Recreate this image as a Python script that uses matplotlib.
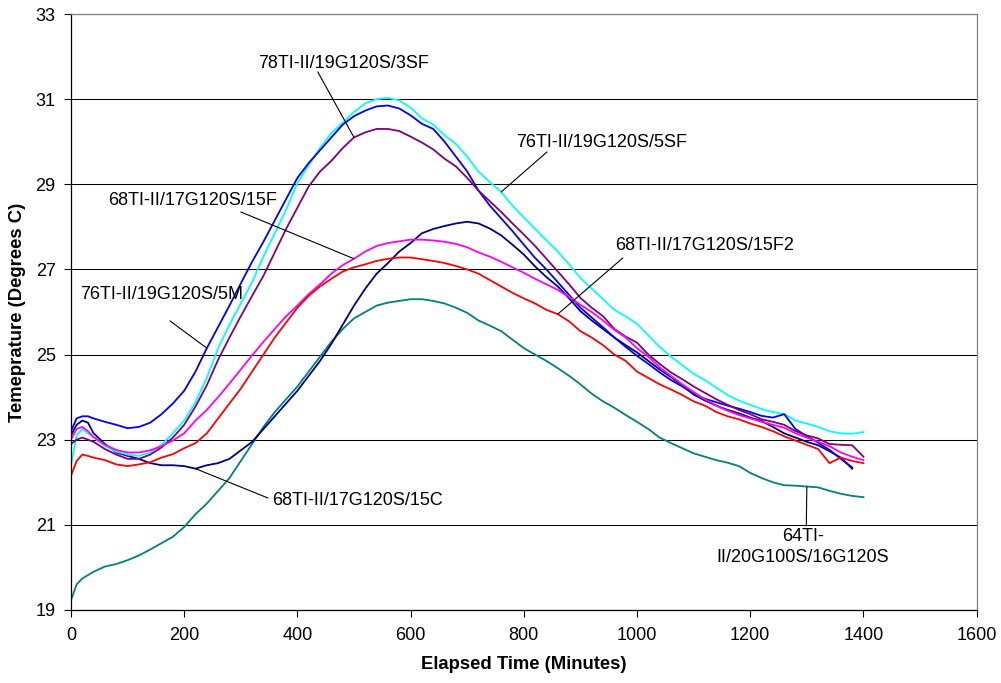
import numpy as np
import matplotlib
matplotlib.use("Agg")
import matplotlib.pyplot as plt

plt.rcParams['font.family'] = ['Liberation Sans', 'DejaVu Sans']

# Elapsed time (minutes) at which each temperature was read
minutes = [0, 10, 20, 30] + list(range(40, 1401, 20))

nan = float('nan')

temp_5m = [23.2, 23.5, 23.55, 23.55, 23.5, 23.42, 23.35, 23.27, 23.3, 23.4, 23.6, 23.85,
           24.15, 24.6, 25.15, 25.65, 26.15, 26.67, 27.18, 27.65, 28.15, 28.65, 29.15,
           29.5, 29.8, 30.1, 30.4, 30.6, 30.73, 30.83, 30.85, 30.78, 30.62, 30.42, 30.3,
           30.0, 29.65, 29.3, 28.85, 28.5, 28.2, 27.9, 27.58, 27.27, 27.0, 26.7, 26.4,
           26.1, 25.87, 25.64, 25.4, 25.18, 24.97, 24.78, 24.58, 24.4, 24.25, 24.08,
           23.96, 23.88, 23.8, 23.73, 23.65, 23.56, 23.52, 23.6, 23.25, 23.08, 22.93,
           22.76, 22.55, 22.35, nan]

temp_5sf = [22.4, 23.1, 23.25, 23.15, 23.05, 22.85, 22.72, 22.65, 22.62, 22.7, 22.88, 23.15,
            23.45, 23.88, 24.45, 25.15, 25.7, 26.2, 26.7, 27.3, 27.85, 28.4, 29.03,
            29.45, 29.85, 30.2, 30.45, 30.7, 30.9, 31.0, 31.03, 30.97, 30.8, 30.55, 30.4,
            30.15, 29.95, 29.65, 29.3, 29.05, 28.82, 28.5, 28.22, 27.95, 27.68, 27.42,
            27.12, 26.8, 26.55, 26.3, 26.05, 25.9, 25.72, 25.45, 25.18, 24.95, 24.75,
            24.55, 24.4, 24.22, 24.05, 23.92, 23.82, 23.72, 23.65, 23.6, 23.45, 23.38,
            23.3, 23.2, 23.15, 23.14, 23.18]

temp_3sf = [22.9, 23.0, 23.05, 23.0, 22.95, 22.78, 22.65, 22.55, 22.55, 22.65, 22.82, 23.05,
            23.35, 23.78, 24.28, 24.88, 25.4, 25.9, 26.38, 26.85, 27.4, 27.95, 28.45,
            28.95, 29.3, 29.55, 29.85, 30.1, 30.22, 30.3, 30.3, 30.25, 30.12, 29.98, 29.82,
            29.6, 29.42, 29.15, 28.85, 28.6, 28.35, 28.08, 27.82, 27.55, 27.25, 26.95,
            26.65, 26.33, 26.1, 25.9, 25.6, 25.42, 25.28, 25.0, 24.78, 24.58, 24.42,
            24.25, 24.1, 23.95, 23.82, 23.7, 23.6, 23.48, 23.42, 23.35, 23.2, 23.1,
            23.03, 22.9, 22.88, 22.87, 22.6]

temp_15f = [23.0, 23.25, 23.3, 23.2, 23.06, 22.88, 22.76, 22.7, 22.7, 22.75, 22.85, 22.98,
            23.15, 23.45, 23.7, 24.0, 24.32, 24.65, 24.98, 25.3, 25.6, 25.9, 26.15,
            26.42, 26.65, 26.9, 27.1, 27.25, 27.42, 27.55, 27.62, 27.66, 27.7, 27.7, 27.68,
            27.65, 27.6, 27.52, 27.4, 27.3, 27.18, 27.05, 26.92, 26.78, 26.65, 26.52,
            26.35, 26.17, 26.0, 25.8, 25.58, 25.4, 25.15, 24.95, 24.7, 24.5, 24.3,
            24.12, 23.95, 23.8, 23.68, 23.58, 23.5, 23.42, 23.35, 23.28, 23.15, 23.05,
            22.95, 22.85, 22.7, 22.6, 22.52]

temp_15f2 = [22.15, 22.5, 22.65, 22.62, 22.58, 22.52, 22.42, 22.38, 22.42, 22.47, 22.58, 22.66,
             22.8, 22.92, 23.15, 23.5, 23.85, 24.2, 24.6, 25.0, 25.4, 25.75, 26.1,
             26.38, 26.6, 26.78, 26.95, 27.05, 27.12, 27.2, 27.25, 27.28, 27.28, 27.24, 27.2,
             27.15, 27.08, 27.0, 26.9, 26.75, 26.6, 26.45, 26.32, 26.2, 26.05, 25.95,
             25.78, 25.55, 25.4, 25.22, 25.0, 24.85, 24.6, 24.45, 24.3, 24.18, 24.05,
             23.9, 23.8, 23.65, 23.55, 23.48, 23.38, 23.3, 23.2, 23.08, 22.98, 22.88,
             22.78, 22.45, 22.58, 22.5, 22.45]

temp_15c = [23.1, 23.35, 23.45, 23.4, 23.15, 22.9, 22.7, 22.62, 22.55, 22.45, 22.4, 22.4,
            22.38, 22.32, 22.4, 22.45, 22.55, 22.75, 22.95, 23.25, 23.55, 23.85, 24.15,
            24.5, 24.85, 25.25, 25.7, 26.15, 26.55, 26.9, 27.15, 27.42, 27.62, 27.85, 27.95,
            28.02, 28.08, 28.12, 28.08, 27.96, 27.8, 27.58, 27.35, 27.07, 26.82, 26.6,
            26.32, 26.02, 25.8, 25.6, 25.4, 25.22, 25.05, 24.85, 24.65, 24.47, 24.28,
            24.06, 23.92, 23.8, 23.7, 23.62, 23.52, 23.44, 23.3, 23.15, 23.05, 22.95,
            22.87, 22.73, 22.58, 22.32, nan]

temp_16g = [19.23, 19.6, 19.74, 19.82, 19.9, 20.02, 20.08, 20.17, 20.28, 20.42, 20.57, 20.72,
            20.95, 21.25, 21.5, 21.8, 22.1, 22.5, 22.9, 23.3, 23.65, 23.95, 24.25,
            24.6, 24.95, 25.3, 25.6, 25.85, 26.0, 26.15, 26.22, 26.26, 26.3, 26.3, 26.26,
            26.2, 26.1, 25.98, 25.8, 25.68, 25.55, 25.35, 25.15, 25.0, 24.85, 24.68,
            24.5, 24.3, 24.08, 23.9, 23.75, 23.58, 23.42, 23.25, 23.05, 22.92, 22.8,
            22.68, 22.6, 22.52, 22.46, 22.38, 22.22, 22.1, 22.0, 21.93, 21.92, 21.9,
            21.88, 21.8, 21.73, 21.68, 21.65]

series_names = ["64TI-\nII/20G100S/16G120S", "68TI-II/17G120S/15C", "76TI-II/19G120S/5SF",
                "76TI-II/19G120S/5M", "78TI-II/19G120S/3SF", "68TI-II/17G120S/15F",
                "68TI-II/17G120S/15F2"]
series_temps = [temp_16g, temp_15c, temp_5sf, temp_5m, temp_3sf, temp_15f, temp_15f2]
series_colors = ["#008080", "#000080", "#00FFFF", "#0000FF", "#800080", "#FF00FF", "#FF0000"]

x_ticks = list(range(0, 1601, 200))
y_ticks = list(range(19, 34, 2))

fig = plt.figure(figsize=(10.01, 6.83), dpi=100)
ax = fig.add_axes([0.0709, 0.1069, 0.9048, 0.8726])

for yv in y_ticks:
    ax.axhline(yv, color="black", lw=0.75, zorder=1)

for temps, color in zip(series_temps, series_colors):
    ax.plot(minutes, temps, color=color, lw=1.3, zorder=2)

ax.set_xlim(0, 1600)
ax.set_ylim(19, 33)
ax.set_xticks(x_ticks)
ax.set_yticks(y_ticks)
ax.tick_params(axis="both", direction="out", length=5, width=0.8, labelsize=13,
               colors="black")
ax.tick_params(axis="x", pad=7)
ax.tick_params(axis="y", pad=6)

for side in ("left", "bottom"):
    ax.spines[side].set_color("black")
    ax.spines[side].set_linewidth(0.9)
for side in ("right", "top"):
    ax.spines[side].set_color("#808080")
    ax.spines[side].set_linewidth(0.9)

ax.set_xlabel("Elapsed Time (Minutes)", fontsize=13.3, fontweight="bold", labelpad=9)
ax.set_ylabel("Temeprature (Degrees C)", fontsize=13.3, fontweight="bold", labelpad=7)


def value_at(temps, minute):
    return temps[minutes.index(minute)]


# Data labels with leader lines: (name index, minute on curve, text position, leader start)
labels = [
    (4, 500, (482, 31.83), (436, 31.64)),
    (2, 760, (938, 29.99), (841, 29.76)),
    (5, 500, (215, 28.61), (300, 28.35)),
    (6, 860, (1120, 27.57), (975, 27.27)),
    (3, 240, (161, 26.40), (175, 25.79)),
    (1, 220, (507, 21.58), (348, 21.63)),
    (0, 1300, (1293, 20.48), (1299, 20.97)),
]

for idx, minute, text_pos, start in labels:
    tip = (minute, value_at(series_temps[idx], minute))
    ax.annotate("", xy=tip, xytext=start,
                arrowprops=dict(arrowstyle="-", color="black", lw=0.8,
                                shrinkA=0, shrinkB=0), zorder=3)
    ax.text(text_pos[0], text_pos[1], series_names[idx], fontsize=13,
            ha="center", va="center", linespacing=1.35, zorder=4)

fig.savefig("out.png", dpi=100)
